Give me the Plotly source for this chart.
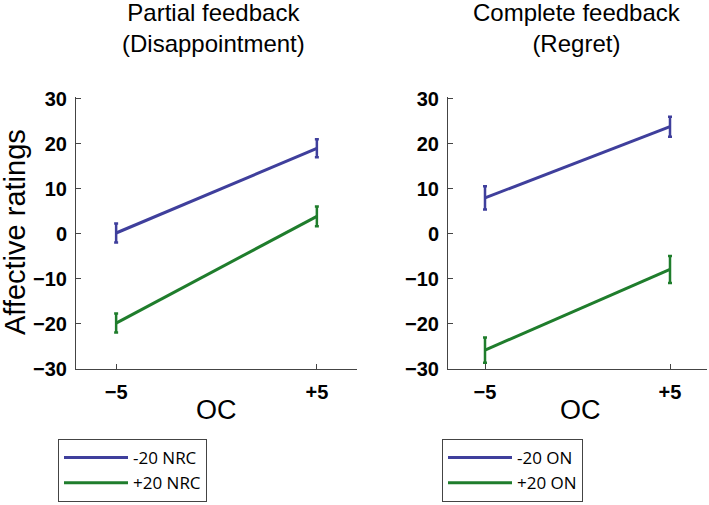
import plotly.graph_objects as go

# ---- data ----
oc = [-5, 5]
oc_labels = ["\u22125", "+5"]

partial_neg20 = [0.2, 19.0]
partial_neg20_err = [2.1, 2.0]
partial_pos20 = [-19.8, 3.9]
partial_pos20_err = [2.1, 2.2]

complete_neg20 = [8.0, 23.8]
complete_neg20_err = [2.6, 2.2]
complete_pos20 = [-25.8, -7.9]
complete_pos20_err = [2.8, 3.0]

names_partial = ["-20 NRC", "+20 NRC"]
names_complete = ["-20 ON", "+20 ON"]
titles = ["Partial feedback<br>(Disappointment)", "Complete feedback<br>(Regret)"]

BLUE = "#3f3f9c"
GREEN = "#1f7d2c"
W, H = 709, 505

fig = go.Figure()

def add(y, err, name, color, xa, ya, leg):
    fig.add_trace(go.Scatter(
        x=oc, y=y, name=name, mode="lines",
        line=dict(color=color, width=3),
        error_y=dict(type="data", array=err, color=color, thickness=2.5, width=2),
        xaxis=xa, yaxis=ya, legend=leg,
    ))

add(partial_neg20, partial_neg20_err, names_partial[0], BLUE, "x", "y", "legend")
add(partial_pos20, partial_pos20_err, names_partial[1], GREEN, "x", "y", "legend")
add(complete_neg20, complete_neg20_err, names_complete[0], BLUE, "x2", "y2", "legend2")
add(complete_pos20, complete_pos20_err, names_complete[1], GREEN, "x2", "y2", "legend2")

ydom = [1 - 369 / H, 1 - 97 / H]
tickfont = dict(family="Liberation Sans, Arial", size=20, color="black", weight="bold")

common_x = dict(range=[-7, 7], tickvals=oc, ticktext=oc_labels, ticks="inside", ticklen=5,
                tickcolor="#444", showline=True, linecolor="#444", linewidth=1,
                showgrid=False, zeroline=False, tickfont=tickfont, ticklabelstandoff=5,
                fixedrange=True)
common_y = dict(range=[-30, 30.4], tickvals=[-30, -20, -10, 0, 10, 20, 30], ticks="inside",
                ticklen=5, tickcolor="#444", showline=True, linecolor="#444", linewidth=1,
                showgrid=False, zeroline=False, tickfont=tickfont, ticklabelstandoff=4,
                fixedrange=True)

legfont = dict(family="Open Sans", size=17, color="black")
fig.update_layout(
    width=W, height=H, margin=dict(l=0, r=0, t=0, b=0, autoexpand=False),
    paper_bgcolor="white", plot_bgcolor="white",
    xaxis={**common_x, "domain": [76 / W, 357 / W], "anchor": "y"},
    yaxis={**common_y, "domain": ydom, "anchor": "x"},
    xaxis2={**common_x, "domain": [448 / W, 707 / W], "anchor": "y2"},
    yaxis2={**common_y, "domain": ydom, "anchor": "x2"},
    legend=dict(x=58 / W, y=1 - 502 / H, xanchor="left", yanchor="bottom",
                bordercolor="#444", borderwidth=1, bgcolor="white",
                font=legfont, tracegroupgap=0, itemwidth=64),
    legend2=dict(x=442 / W, y=1 - 502 / H, xanchor="left", yanchor="bottom",
                 bordercolor="#444", borderwidth=1, bgcolor="white",
                 font=legfont, tracegroupgap=0, itemwidth=64),
    showlegend=True,
)

ann_font = dict(family="Liberation Sans, Arial", color="black")
fig.add_annotation(text=titles[0], x=214 / W, y=1, xref="paper", yref="paper",
                   xanchor="center", yanchor="top", showarrow=False, yshift=3,
                   font={**ann_font, "size": 24})
fig.add_annotation(text=titles[1], x=577 / W, y=1, xref="paper", yref="paper",
                   xanchor="center", yanchor="top", showarrow=False, yshift=3,
                   font={**ann_font, "size": 24})
fig.add_annotation(text="Affective ratings", x=15 / W, y=1 - 232 / H, xref="paper", yref="paper",
                   xanchor="center", yanchor="middle", showarrow=False, textangle=-90,
                   font={**ann_font, "size": 29})
for xc in (216.5, 580):
    fig.add_annotation(text="OC", x=xc / W, y=1 - 410 / H, xref="paper", yref="paper",
                       xanchor="center", yanchor="middle", showarrow=False,
                       font={**ann_font, "size": 27})

fig.write_html("out.html", config={"displayModeBar": False},
               post_script="document.body.style.margin='0';document.body.style.overflow='hidden';")
